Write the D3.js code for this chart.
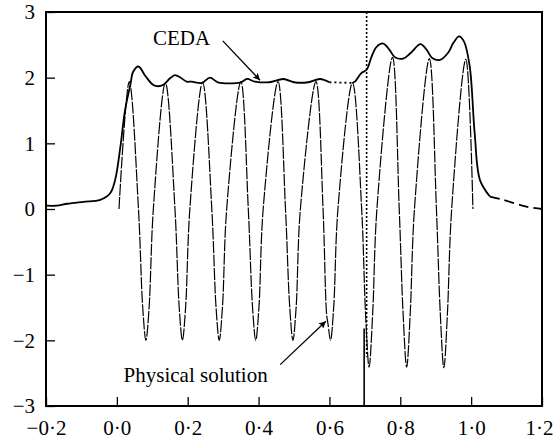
<!DOCTYPE html>
<html>
<head>
<meta charset="utf-8">
<script src="https://cdn.jsdelivr.net/npm/d3@7"></script>
<style>
  body { margin: 0; background: #fff; }
  svg text { font-family: "Liberation Serif", "Times New Roman", Times, "DejaVu Serif", serif; fill: #000; }
</style>
</head>
<body>
<script>
// tick values
const xTicks = [-0.2, 0.0, 0.2, 0.4, 0.6, 0.8, 1.0, 1.2];
const yTicks = [-3, -2, -1, 0, 1, 2, 3];

// CEDA solution
const cedaPoints = [
  [-0.2, 0.05], [-0.17, 0.05], [-0.14, 0.08], [-0.095, 0.11], [-0.047, 0.14],
  [-0.019, 0.24], [-0.005, 0.44], [0.01, 0.95], [0.023, 1.5], [0.038, 1.89],
  [0.046, 2.09], [0.061, 2.17], [0.08, 2.03], [0.1, 1.9], [0.113, 1.87],
  [0.131, 1.89], [0.15, 1.99], [0.164, 2.04], [0.18, 2.0], [0.197, 1.94],
  [0.211, 1.94], [0.24, 1.92], [0.263, 2.0], [0.285, 1.93], [0.35, 1.93],
  [0.367, 1.98], [0.39, 1.94], [0.43, 1.93], [0.47, 1.98], [0.5, 1.93],
  [0.54, 1.93], [0.573, 1.98], [0.6, 1.93], [0.665, 1.92], [0.672, 1.94],
  [0.69, 2.07], [0.705, 2.12], [0.719, 2.32], [0.733, 2.47], [0.752, 2.52],
  [0.77, 2.42], [0.785, 2.31], [0.808, 2.29], [0.83, 2.38], [0.857, 2.51],
  [0.875, 2.42], [0.89, 2.3], [0.912, 2.27], [0.935, 2.38], [0.95, 2.53],
  [0.966, 2.63], [0.98, 2.55], [0.996, 2.17], [1.01, 1.15], [1.025, 0.44],
  [1.053, 0.19], [1.09, 0.14], [1.156, 0.035], [1.2, 0.0]
];

// physical (oscillating) solution
const physPoints = [
  [0.006, 0.0], [0.035, 1.94],
  [0.061, 0], [0.073, -1.5], [0.082, -2.0], [0.091, -1.5], [0.103, 0],
  [0.137, 1.92],
  [0.164, 0], [0.176, -1.5], [0.185, -2.0], [0.194, -1.5], [0.206, 0],
  [0.242, 1.93],
  [0.268, 0], [0.28, -1.5], [0.289, -2.0], [0.298, -1.5], [0.31, 0],
  [0.35, 1.94],
  [0.371, 0], [0.383, -1.5], [0.392, -2.0], [0.401, -1.5], [0.413, 0],
  [0.455, 1.94],
  [0.476, 0], [0.488, -1.5], [0.497, -2.0], [0.506, -1.5], [0.518, 0],
  [0.562, 1.94],
  [0.582, 0], [0.592, -1.6], [0.596, -1.75], [0.603, -2.0], [0.612, -1.5], [0.624, 0],
  [0.665, 1.92],
  [0.691, 0], [0.702, -1.6], [0.712, -2.41], [0.722, -1.6], [0.734, 0],
  [0.778, 2.31],
  [0.797, 0], [0.808, -1.6], [0.818, -2.41], [0.828, -1.6], [0.84, 0],
  [0.882, 2.29],
  [0.902, 0], [0.913, -1.6], [0.923, -2.42], [0.933, -1.6], [0.945, 0],
  [0.985, 2.28], [1.005, 0.0]
];

// shock markers: [x, yFrom, yTo]
const shockDotted = [0.705, 3, -2.25];
const shockSolid = [0.698, -1.82, -3];

// annotations: text position, arrow start, arrow tip (data units)
const cedaLabel = { text: 'CEDA', at: [0.102, 2.5], from: [0.299, 2.56], to: [0.404, 1.96] };
const physLabel = { text: 'Physical solution', at: [0.019, -2.63], from: [0.461, -2.37], to: [0.59, -1.71] };

const serif = '"Liberation Serif", "Times New Roman", Times, "DejaVu Serif", serif';

let margin = { top: 12, right: 12, bottom: 35, left: 46 },
    width = 554 - margin.left - margin.right,
    height = 441 - margin.top - margin.bottom;

let x = d3.scaleLinear().domain([-0.2, 1.2]).range([0, width]),
    y = d3.scaleLinear().domain([-3, 3]).range([height, 0]);

let fmt = d => d3.format('.1f')(d).replace('.', '\u00b7');

let svg = d3.select('body')
            .append('svg').attr('width', 554).attr('height', 441)
            .append('g').attr('transform', `translate(${margin.left}, ${margin.top})`);

svg.append('defs').append('marker')
   .attr('id', 'arrow').attr('viewBox', '0 0 10 10')
   .attr('refX', 10).attr('refY', 5)
   .attr('markerWidth', 11).attr('markerHeight', 7)
   .attr('markerUnits', 'userSpaceOnUse')
   .attr('orient', 'auto')
   .append('path').attr('d', 'M0,0 L10,5 L0,10 L2,5 Z').attr('fill', '#000');

let xAxis = d3.axisBottom(x).tickValues(xTicks).tickFormat(fmt).tickSize(-9).tickPadding(14),
    yAxis = d3.axisLeft(y).tickValues(yTicks).tickFormat(d3.format('d')).tickSize(-9).tickPadding(11);

let gx = svg.append('g').attr('transform', `translate(0, ${height})`).call(xAxis);
let gy = svg.append('g').call(yAxis);
[gx, gy].forEach(g => {
    g.attr('font-family', serif).attr('font-size', 21);
    g.select('.domain').remove();
    g.selectAll('line').attr('stroke', '#000').attr('stroke-width', 1.3);
    g.selectAll('text').attr('fill', '#000');
});
// last x label sits against the page edge, nudge it in a little
gx.selectAll('.tick text').filter(d => d === 1.2).attr('dx', -3);

let line = d3.line().x(d => x(d[0])).y(d => y(d[1])).curve(d3.curveCatmullRom.alpha(0.5));

// physical solution
svg.append('path').attr('d', line(physPoints))
   .attr('fill', 'none').attr('stroke', '#000').attr('stroke-width', 1.2)
   .attr('stroke-dasharray', '12,1.5');

// CEDA split into solid / dotted / dashed stretches
const cedaParts = [
    { from: -0.2, to: 0.6, dash: null },
    { from: 0.6, to: 0.665, dash: '2,3' },
    { from: 0.665, to: 1.053, dash: null },
    { from: 1.053, to: 1.2, dash: '10,5' }
];
cedaParts.forEach(p => {
    let pts = cedaPoints.filter(d => d[0] >= p.from && d[0] <= p.to);
    svg.append('path').attr('d', line(pts))
       .attr('fill', 'none').attr('stroke', '#000').attr('stroke-width', 1.8)
       .attr('stroke-dasharray', p.dash);
});

// shock lines
svg.append('line')
   .attr('x1', x(shockDotted[0])).attr('x2', x(shockDotted[0]))
   .attr('y1', y(shockDotted[1])).attr('y2', y(shockDotted[2]))
   .attr('stroke', '#000').attr('stroke-width', 1.6).attr('stroke-dasharray', '2,2');
svg.append('line')
   .attr('x1', x(shockSolid[0])).attr('x2', x(shockSolid[0]))
   .attr('y1', y(shockSolid[1])).attr('y2', y(shockSolid[2]))
   .attr('stroke', '#000').attr('stroke-width', 1.6);

// annotations
[cedaLabel, physLabel].forEach(a => {
    svg.append('text').attr('x', x(a.at[0])).attr('y', y(a.at[1]))
       .attr('font-family', serif).attr('font-size', 21).text(a.text);
    svg.append('line')
       .attr('x1', x(a.from[0])).attr('y1', y(a.from[1]))
       .attr('x2', x(a.to[0])).attr('y2', y(a.to[1]))
       .attr('stroke', '#000').attr('stroke-width', 1.3)
       .attr('marker-end', 'url(#arrow)');
});

// frame
svg.append('rect').attr('width', width).attr('height', height)
   .attr('fill', 'none').attr('stroke', '#000').attr('stroke-width', 2);
</script>
</body>
</html>
